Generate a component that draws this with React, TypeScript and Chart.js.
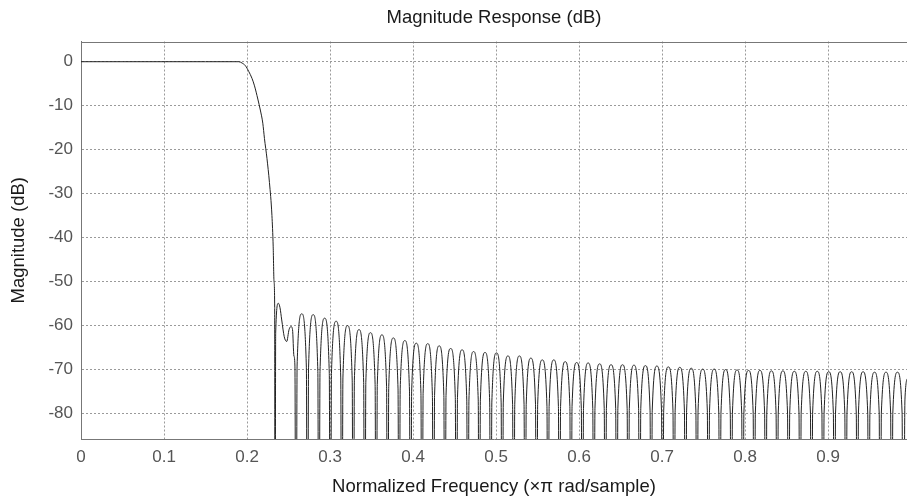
import React, { useEffect, useRef } from "react";
import { Chart, registerables } from "chart.js";

Chart.register(...registerables);

// Passband and transition band (normalized frequency, dB)
const passFreqs = [0, 0.05, 0.1, 0.15, 0.185, 0.19, 0.194, 0.198, 0.202, 0.206, 0.209, 0.213, 0.216, 0.219, 0.221, 0.224, 0.227, 0.23, 0.2315, 0.2325, 0.2333];
const passDb = [0, 0, 0, 0, 0, 0, -0.3, -0.9, -2.2, -3.8, -5.5, -8.5, -11, -14, -17.5, -22, -27.5, -35, -42, -50, -56];

// First (irregular) stopband lobe, starting with the first null
const firstLobeFreqs = [0.2337, 0.2345, 0.2377, 0.2397, 0.2418, 0.2448, 0.2478, 0.2506, 0.2530, 0.2548, 0.2565];
const firstLobeDb = [-150, -61.8, -55, -56, -58.8, -62.6, -63.7, -61, -60.3, -61, -67];

// Stopband nulls (all fall far below the axis)
const nullFreqs = [
  0.2590, 0.2728, 0.2866, 0.3004, 0.3142, 0.3280, 0.3418, 0.3556, 0.3694, 0.3832,
  0.3970, 0.4108, 0.4246, 0.4384, 0.4522, 0.4660, 0.4798, 0.4936, 0.5074, 0.5212,
  0.5350, 0.5488, 0.5626, 0.5764, 0.5902, 0.6040, 0.6178, 0.6316, 0.6454, 0.6592,
  0.6730, 0.6868, 0.7006, 0.7144, 0.7282, 0.7420, 0.7558, 0.7696, 0.7834, 0.7972,
  0.8110, 0.8248, 0.8386, 0.8524, 0.8662, 0.8800, 0.8938, 0.9076, 0.9214, 0.9352,
  0.9490, 0.9628, 0.9766, 0.9904,
];
const nullFloorDb = -150;
// Level of the lobe walls just beside each null (read where the curve turns vertical)
const nullWallDb = [
  -69.3, -69.7, -70.5, -71, -72, -72.5, -73, -73.5, -74, -74.5,
  -75, -75.5, -76, -76, -76.5, -77, -77, -77.5, -77.5, -78,
  -78, -78, -78.5, -78.5, -78.5, -79, -79, -79, -79, -79,
  -79, -79.5, -79.5, -79.5, -79.5, -79.5, -79.5, -80, -80, -80,
  -80, -80, -80, -80, -80, -80, -80, -80, -80, -80,
  -80, -80, -80, -80,
];

// Stopband lobe peaks
const peakFreqs = [
  0.2659, 0.2797, 0.2935, 0.3073, 0.3211, 0.3349, 0.3487, 0.3625, 0.3763, 0.3901,
  0.4039, 0.4177, 0.4315, 0.4453, 0.4591, 0.4729, 0.4867, 0.5005, 0.5143, 0.5281,
  0.5419, 0.5557, 0.5695, 0.5833, 0.5971, 0.6109, 0.6247, 0.6385, 0.6523, 0.6661,
  0.6799, 0.6937, 0.7075, 0.7213, 0.7351, 0.7489, 0.7627, 0.7765, 0.7903, 0.8041,
  0.8179, 0.8317, 0.8455, 0.8593, 0.8731, 0.8869, 0.9007, 0.9145, 0.9283, 0.9421,
  0.9559, 0.9697, 0.9835,
];
const peakDb = [
  -57.4, -57.6, -58.4, -59.1, -60.1, -61.0, -61.7, -62.2, -62.9, -63.5,
  -64.1, -64.2, -64.7, -65.3, -65.6, -66.0, -66.2, -66.3, -67.0, -67.0,
  -67.5, -67.9, -67.9, -68.3, -68.5, -68.6, -68.8, -69.0, -69.0, -69.1,
  -69.2, -69.3, -69.5, -69.6, -69.8, -70.0, -70.0, -70.1, -70.2, -70.3,
  -70.3, -70.4, -70.4, -70.5, -70.5, -70.5, -70.6, -70.6, -70.6, -70.6,
  -70.7, -70.7, -70.7,
];

// Right edge
const edgeFreqs = [0.9925, 0.996];
const edgeDb = [-77, -72];

// Axes
const xTicks = [0, 0.1, 0.2, 0.3, 0.4, 0.5, 0.6, 0.7, 0.8, 0.9];
const xTickLabels = ["0", "0.1", "0.2", "0.3", "0.4", "0.5", "0.6", "0.7", "0.8", "0.9"];
const yTicks = [-80, -70, -60, -50, -40, -30, -20, -10, 0];
const yTickLabels = ["-80", "-70", "-60", "-50", "-40", "-30", "-20", "-10", "0"];
const xMin = 0;
const xMax = 0.995;
const yMin = -85.9;
const yMax = 4.6;

const FONT = "'Liberation Sans', Arial, Helvetica, sans-serif";
const WALL_OFFSET = 0.0013; // frequency distance of wall points from each null

function buildPoints() {
  const pts: { x: number; y: number }[] = [];
  passFreqs.forEach((f, i) => pts.push({ x: f, y: passDb[i] }));
  firstLobeFreqs.forEach((f, i) => pts.push({ x: f, y: firstLobeDb[i] }));
  nullFreqs.forEach((f, i) => {
    pts.push({ x: f - WALL_OFFSET, y: nullWallDb[i] });
    pts.push({ x: f, y: nullFloorDb });
    if (i < peakFreqs.length) {
      pts.push({ x: f + WALL_OFFSET, y: nullWallDb[i] });
      pts.push({ x: peakFreqs[i], y: peakDb[i] });
    }
  });
  edgeFreqs.forEach((f, i) => pts.push({ x: f, y: edgeDb[i] }));
  return pts;
}

const frameBorder = {
  id: "frameBorder",
  afterDraw(chart: any) {
    const { ctx, chartArea } = chart;
    ctx.save();
    ctx.strokeStyle = "#777";
    ctx.lineWidth = 1;
    ctx.beginPath();
    ctx.moveTo(chartArea.left, Math.round(chartArea.top) + 0.5);
    ctx.lineTo(chartArea.right, Math.round(chartArea.top) + 0.5);
    ctx.stroke();
    ctx.restore();
  },
};

export default function App() {
  const ref = useRef<HTMLCanvasElement | null>(null);
  useEffect(() => {
    if (!ref.current) return;
    const chart = new Chart(ref.current, {
      type: "line",
      data: {
        datasets: [
          {
            data: buildPoints(),
            borderColor: "#222",
            borderWidth: 1,
            pointRadius: 0,
            fill: false,
            cubicInterpolationMode: "monotone",
          },
        ],
      },
      options: {
        animation: false,
        responsive: false,
        devicePixelRatio: 1,
        layout: { padding: { left: 0, right: 0, top: 0, bottom: 0 } },
        plugins: {
          legend: { display: false },
          tooltip: { enabled: false },
          title: {
            display: true,
            fullSize: false,
            text: "Magnitude Response (dB)",
            color: "#1a1a1a",
            font: { family: FONT, size: 18.5, weight: "normal", lineHeight: 1 },
            padding: { top: 9, bottom: 14 },
          },
        },
        scales: {
          x: {
            type: "linear",
            min: xMin,
            max: xMax,
            afterBuildTicks: (s: any) => {
              s.ticks = xTicks.map((v) => ({ value: v }));
            },
            afterFit: (s: any) => {
              s.height = 58;
            },
            ticks: {
              autoSkip: false,
              maxRotation: 0,
              color: "#555",
              padding: 8,
              font: { family: FONT, size: 17 },
              callback: (v: any) => xTickLabels[xTicks.indexOf(Number(v))] ?? "",
            },
            grid: { color: "#9a9a9a", lineWidth: 1, drawTicks: false },
            border: { color: "#777", width: 1, dash: [2, 2] },
            title: {
              display: true,
              text: "Normalized Frequency (×π rad/sample)",
              color: "#1a1a1a",
              font: { family: FONT, size: 18.5, lineHeight: 1 },
              padding: { top: 0, bottom: 1 },
            },
          },
          y: {
            type: "linear",
            min: yMin,
            max: yMax,
            afterBuildTicks: (s: any) => {
              s.ticks = yTicks.map((v) => ({ value: v }));
            },
            afterFit: (s: any) => {
              s.width = 81;
            },
            ticks: {
              color: "#555",
              padding: 8,
              font: { family: FONT, size: 17 },
              callback: (v: any) => yTickLabels[yTicks.indexOf(Number(v))] ?? "",
            },
            grid: { color: "#9a9a9a", lineWidth: 1, drawTicks: false },
            border: { color: "#777", width: 1, dash: [2, 2] },
            title: {
              display: true,
              text: "Magnitude (dB)",
              color: "#1a1a1a",
              font: { family: FONT, size: 18.5, lineHeight: 1 },
              padding: { top: 10, bottom: 0 },
            },
          },
        },
      } as any,
      plugins: [frameBorder],
    });
    return () => chart.destroy();
  }, []);

  return (
    <div style={{ position: "fixed", left: 0, top: 0, width: 907, height: 497, background: "#fff" }}>
      <canvas ref={ref} width={907} height={497} style={{ display: "block" }} />
    </div>
  );
}
